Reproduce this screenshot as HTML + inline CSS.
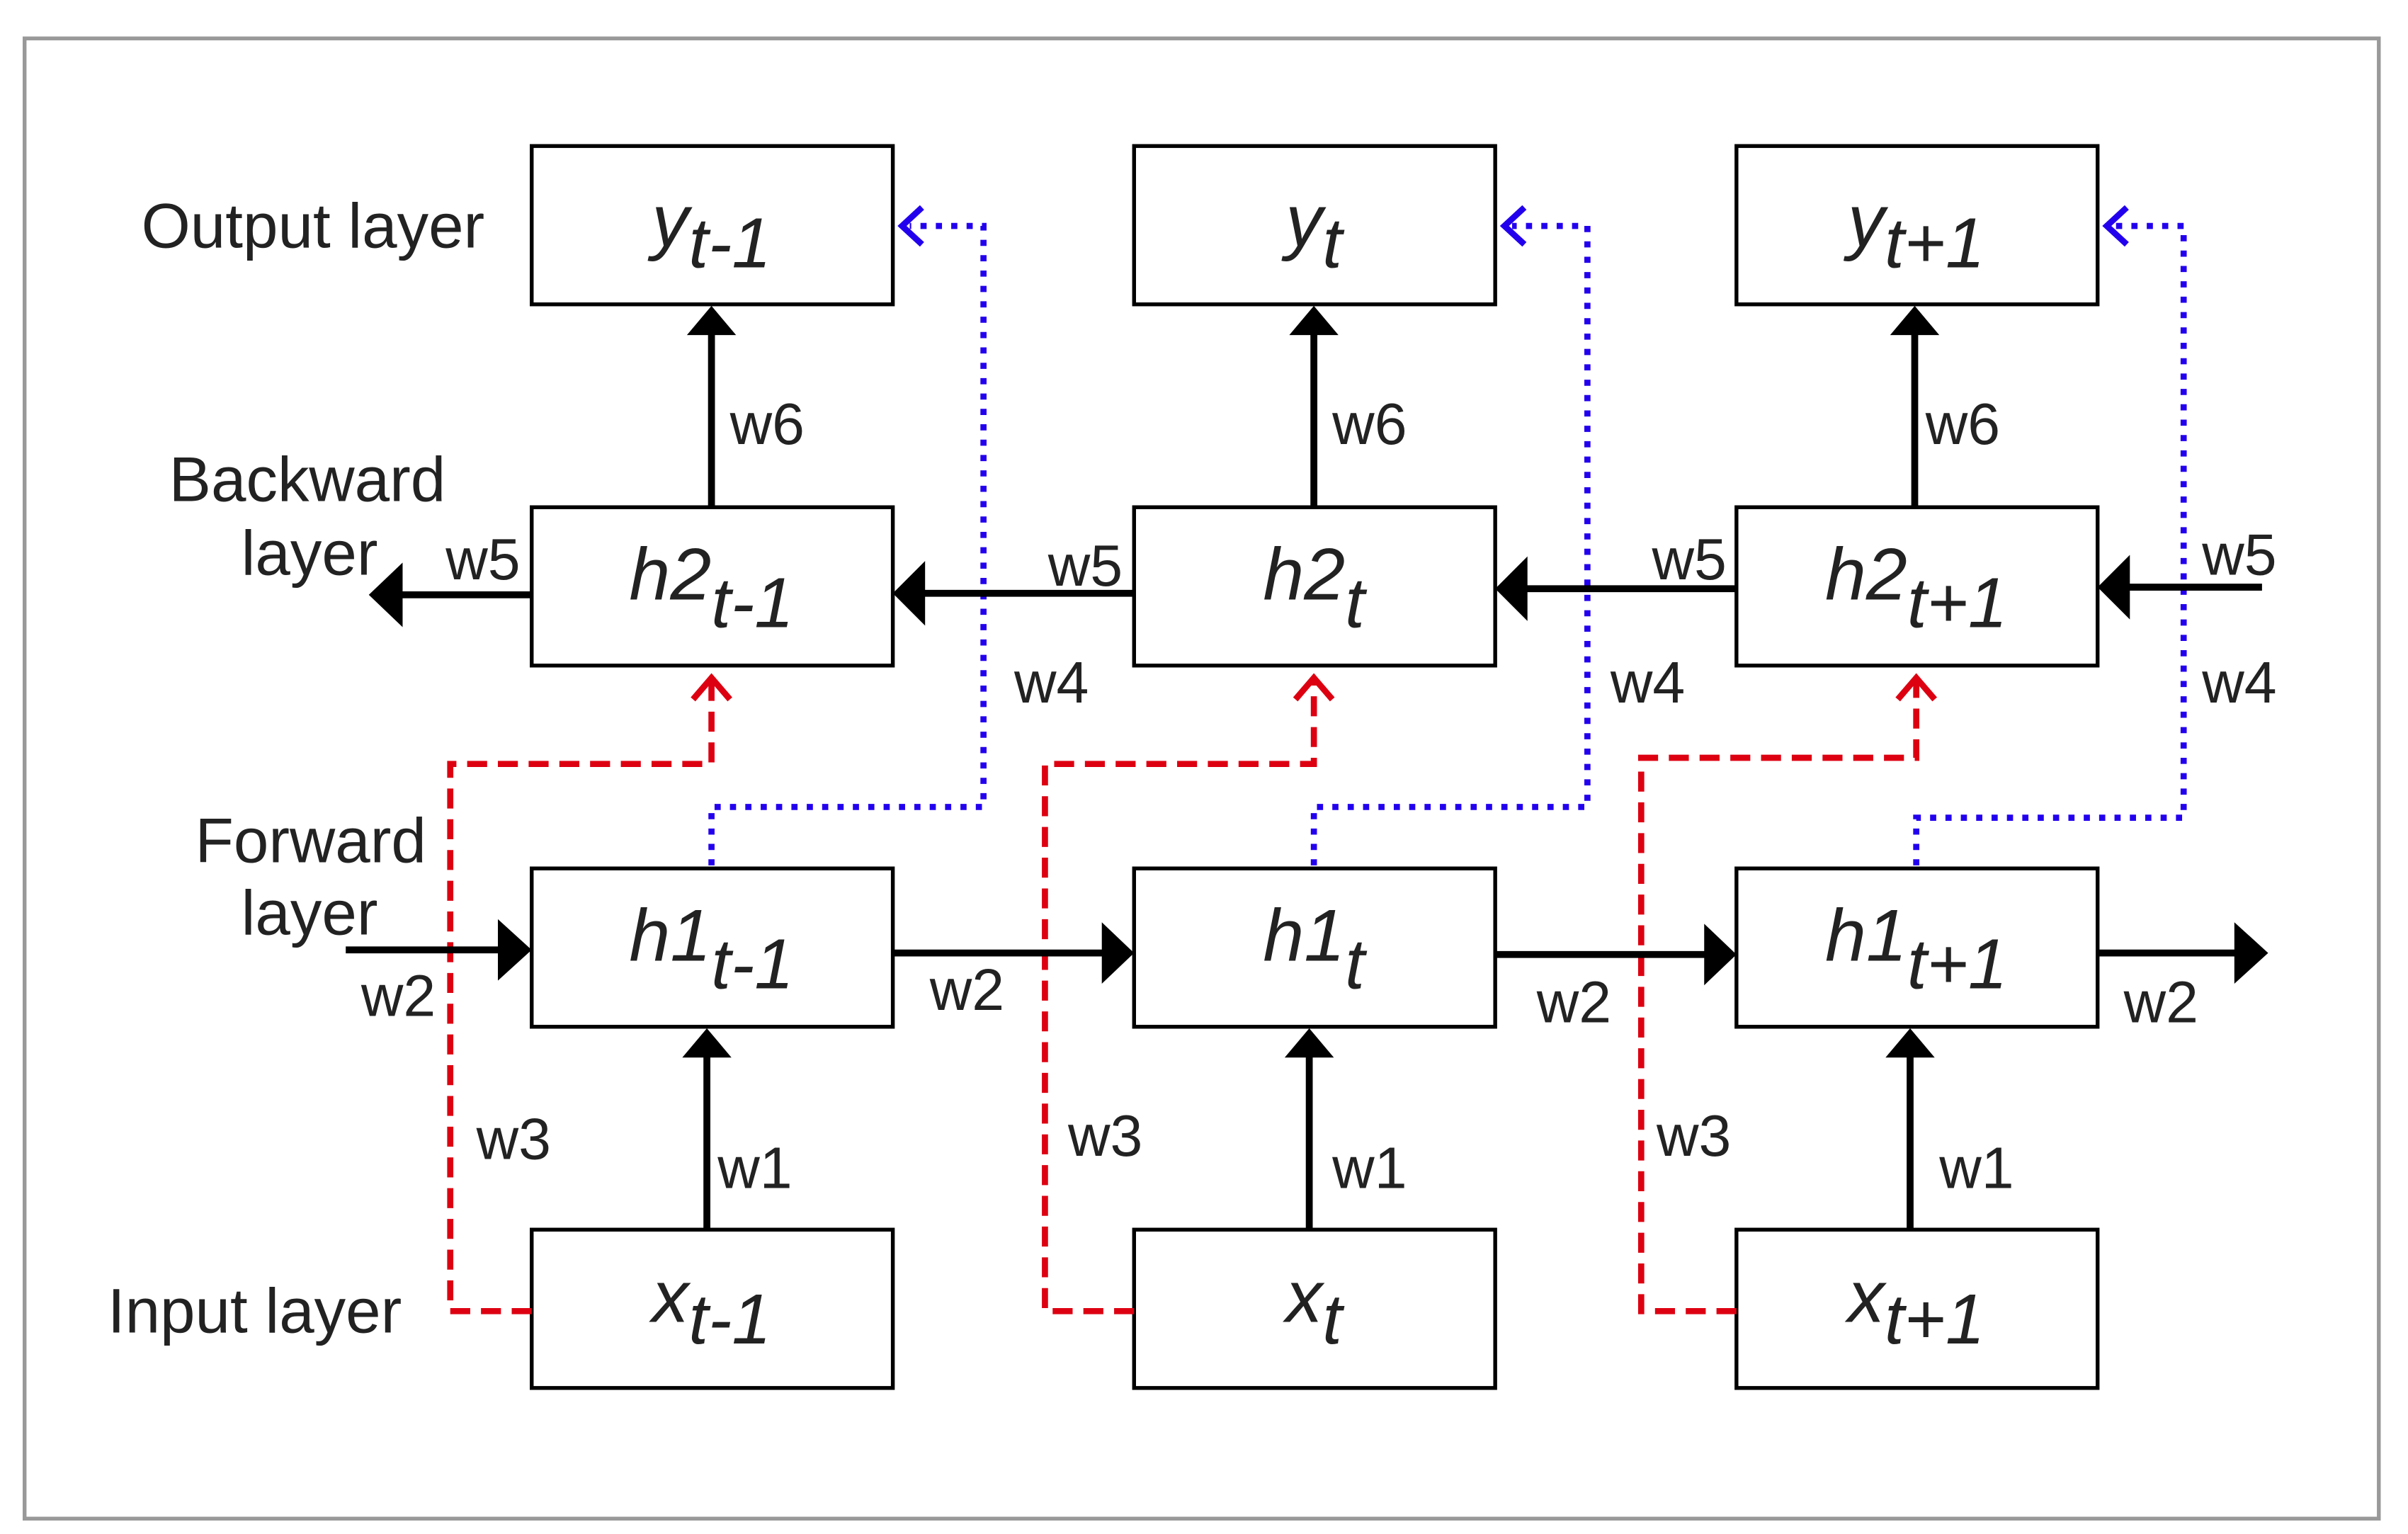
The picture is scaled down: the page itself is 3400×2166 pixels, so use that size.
<!DOCTYPE html>
<html><head><meta charset="utf-8"><style>html,body{margin:0;padding:0;background:#fff}svg{display:block}</style></head>
<body>
<svg width="3400" height="2166" viewBox="0 0 1567 998" preserveAspectRatio="none" xmlns="http://www.w3.org/2000/svg" font-family="Liberation Sans, sans-serif" fill="#222">
<rect x="16" y="25" width="1532" height="963" fill="#fff" stroke="#999" stroke-width="2.5"/>
<g fill="#fff" stroke="#000" stroke-width="2.5">
<rect x="346" y="95" width="235" height="103"/><rect x="738" y="95" width="235" height="103"/><rect x="1130" y="95" width="235" height="103"/>
<rect x="346" y="330" width="235" height="103"/><rect x="738" y="330" width="235" height="103"/><rect x="1130" y="330" width="235" height="103"/>
<rect x="346" y="565" width="235" height="103"/><rect x="738" y="565" width="235" height="103"/><rect x="1130" y="565" width="235" height="103"/>
<rect x="346" y="800" width="235" height="103"/><rect x="738" y="800" width="235" height="103"/><rect x="1130" y="800" width="235" height="103"/>
</g>
<g fill="none" stroke="#2200ee" stroke-width="4" stroke-dasharray="4,6">
<path d="M463 563 V525 H640 V147 H592"/>
<path d="M855 563 V525 H1033 V147 H984"/>
<path d="M1247 563 V532 H1421 V147 H1377"/>
</g>
<g fill="none" stroke="#2200ee" stroke-width="4">
<path d="M600 135 L587 147 L600 159"/><path d="M992 135 L979 147 L992 159"/><path d="M1384 135 L1371 147 L1384 159"/>
</g>
<g fill="none" stroke="#dd0011" stroke-width="4" stroke-dasharray="13,7">
<path d="M346 853 H293 V497 H463 V442"/>
<path d="M738 853 H680 V497 H855 V442"/>
<path d="M1130 853 H1068 V493 H1247 V442"/>
</g>
<g fill="none" stroke="#dd0011" stroke-width="4">
<path d="M451 455 L463 441 L475 455"/><path d="M843 455 L855 441 L867 455"/><path d="M1235 455 L1247 441 L1259 455"/>
</g>
<g stroke="#000" stroke-width="4.5" fill="none">
<path d="M463 330 V215"/><path d="M855 330 V215"/><path d="M1246 330 V215"/>
<path d="M460 800 V685"/><path d="M852 800 V685"/><path d="M1243 800 V685"/>
<path d="M346 387 H260"/><path d="M738 386 H600"/><path d="M1130 383 H992"/><path d="M1472 382 H1385"/>
<path d="M225 618 H325"/><path d="M581 620 H718"/><path d="M973 621 H1110"/><path d="M1365 620 H1455"/>
</g>
<g fill="#000">
<polygon points="447,218 463,199 479,218"/><polygon points="839,218 855,199 871,218"/><polygon points="1230,218 1246,199 1262,218"/>
<polygon points="444,688 460,669 476,688"/><polygon points="836,688 852,669 868,688"/><polygon points="1227,688 1243,669 1259,688"/>
<polygon points="262,366 240,387 262,408"/><polygon points="602,365 581,386 602,407"/><polygon points="994,362 973,383 994,404"/><polygon points="1386,361 1365,382 1386,403"/>
<polygon points="324,598 346,618 324,638"/><polygon points="717,600 738,620 717,640"/><polygon points="1109,601 1130,621 1109,641"/><polygon points="1454,600 1476,620 1454,640"/>
</g>
<g font-style="italic" font-size="48" text-anchor="middle" fill="#222">
<text x="463" y="160">y<tspan font-size="46" dy="14">t-1</tspan></text>
<text x="855" y="160">y<tspan font-size="46" dy="14">t</tspan></text>
<text x="1247" y="160">y<tspan font-size="46" dy="14">t+1</tspan></text>
<text x="463" y="390">h2<tspan font-size="46" dy="18">t-1</tspan></text>
<text x="855" y="390">h2<tspan font-size="46" dy="18">t</tspan></text>
<text x="1247" y="390">h2<tspan font-size="46" dy="18">t+1</tspan></text>
<text x="463" y="625">h1<tspan font-size="46" dy="18">t-1</tspan></text>
<text x="855" y="625">h1<tspan font-size="46" dy="18">t</tspan></text>
<text x="1247" y="625">h1<tspan font-size="46" dy="18">t+1</tspan></text>
<text x="463" y="860">x<tspan font-size="46" dy="14">t-1</tspan></text>
<text x="855" y="860">x<tspan font-size="46" dy="14">t</tspan></text>
<text x="1247" y="860">x<tspan font-size="46" dy="14">t+1</tspan></text>
</g>
<g font-size="41" fill="#222">
<text x="92" y="161">Output layer</text>
<text x="110" y="326">Backward</text>
<text x="157" y="374">layer</text>
<text x="127" y="561">Forward</text>
<text x="157" y="608">layer</text>
<text x="70" y="867">Input layer</text>
</g>
<g font-size="38" fill="#222">
<text x="475" y="289">w6</text><text x="867" y="289">w6</text><text x="1253" y="289">w6</text>
<text x="467" y="773">w1</text><text x="867" y="773">w1</text><text x="1262" y="773">w1</text>
<text x="290" y="377">w5</text><text x="682" y="381">w5</text><text x="1075" y="377">w5</text><text x="1433" y="374">w5</text>
<text x="660" y="457">w4</text><text x="1048" y="457">w4</text><text x="1433" y="457">w4</text>
<text x="235" y="661">w2</text><text x="605" y="657">w2</text><text x="1000" y="665">w2</text><text x="1382" y="665">w2</text>
<text x="310" y="754">w3</text><text x="695" y="752">w3</text><text x="1078" y="752">w3</text>
</g>
</svg>
</body></html>
